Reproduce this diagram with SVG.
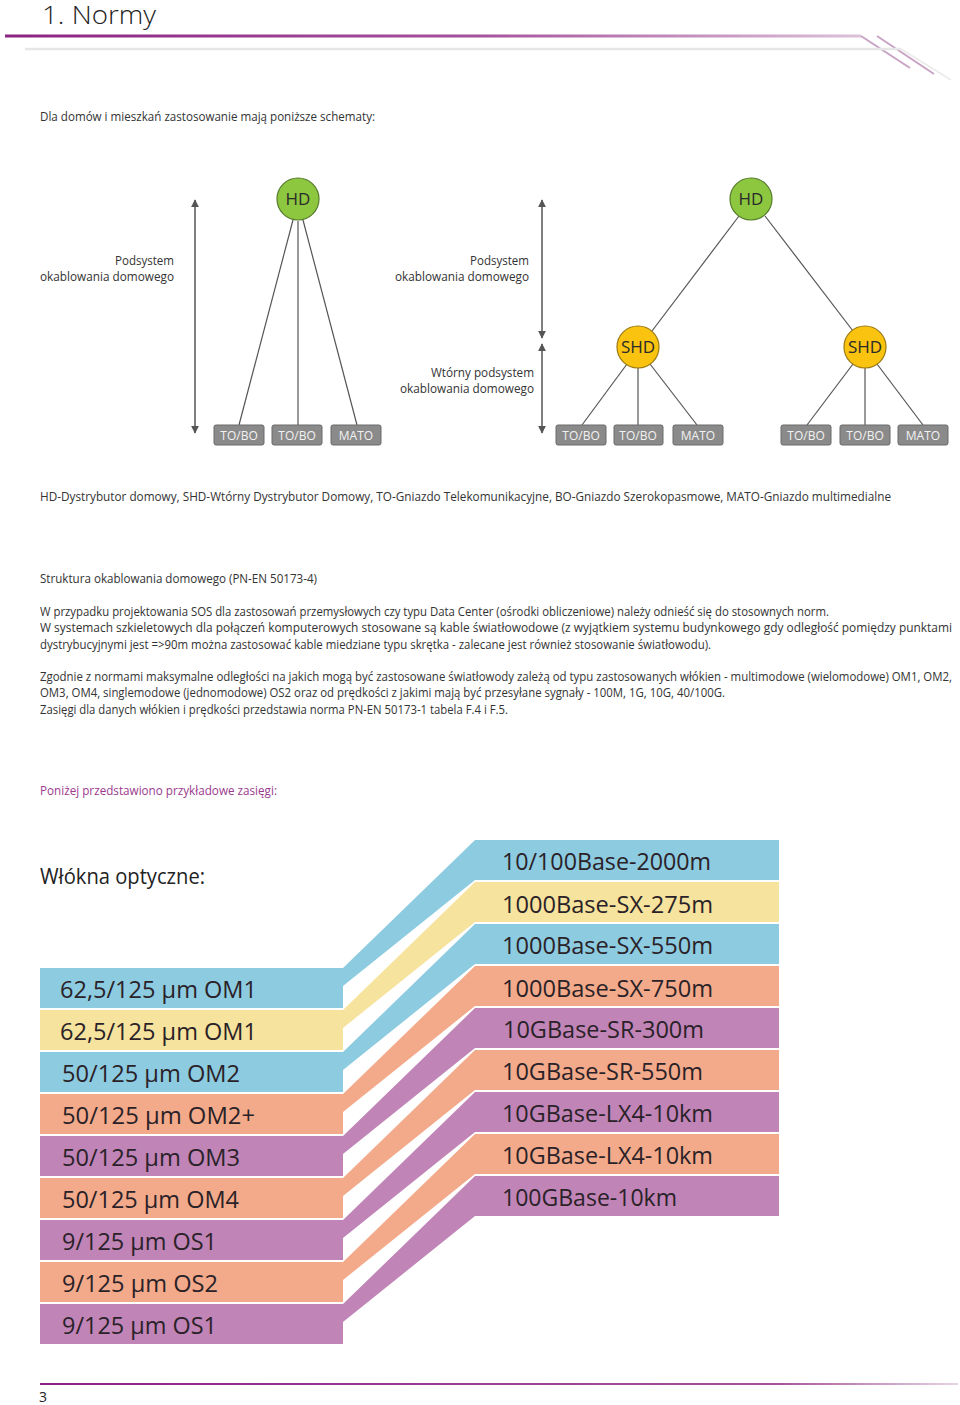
<svg xmlns="http://www.w3.org/2000/svg" width="960" height="1405" viewBox="0 0 960 1405">
<defs>
<linearGradient id="gTop" gradientUnits="userSpaceOnUse" x1="5" y1="0" x2="861" y2="0">
<stop offset="0" stop-color="#8c2383"/><stop offset="0.55" stop-color="#a5519c"/><stop offset="1" stop-color="#dcc1d9"/>
</linearGradient>
<linearGradient id="gBot" gradientUnits="userSpaceOnUse" x1="40" y1="0" x2="958" y2="0">
<stop offset="0" stop-color="#8c2383"/><stop offset="0.8" stop-color="#a5519c"/><stop offset="1" stop-color="#e6d3e3"/>
</linearGradient>
<marker id="ah" viewBox="0 0 10 10" refX="9" refY="5" markerWidth="8" markerHeight="8" markerUnits="userSpaceOnUse" orient="auto-start-reverse">
<path d="M0,0 L10,5 L0,10 Z" fill="#555"/>
</marker>
<style>
.t{font-family:"Open Sans","Noto Sans","Liberation Sans",sans-serif;fill:#333;}
.p{font-size:12px;}
.lbl{font-size:12.5px;text-anchor:end;}
.edge{stroke:#555;stroke-width:1.2;fill:none;}
.dim{stroke:#555;stroke-width:1.5;fill:none;marker-start:url(#ah);marker-end:url(#ah);}
.hd{fill:#8dc63f;stroke:#557a2a;stroke-width:1.2;}
.shd{fill:#f9c30f;stroke:#9a7a12;stroke-width:1.2;}
.nt{font-family:"Open Sans","Noto Sans","Liberation Sans",sans-serif;font-size:17px;fill:#2a2a2a;text-anchor:middle;}
.box{fill:#8a8a8a;stroke:#6a6a6a;stroke-width:1;}
.bt{font-family:"Open Sans","Noto Sans","Liberation Sans",sans-serif;font-size:12px;fill:#f2f2f2;text-anchor:middle;}
.bl{fill:#8dcbe0;}.ye{fill:#f6e39d;}.sa{fill:#f3aa8a;}.pu{fill:#c084b7;}
.bd{font-family:"Open Sans","Noto Sans","Liberation Sans",sans-serif;font-size:23px;fill:#2a2228;}
</style>
</defs>
<rect width="960" height="1405" fill="#ffffff"/>

<g id="header">
<text class="t" x="42" y="24" font-size="26" font-weight="300" style="fill:#222" textLength="114" lengthAdjust="spacingAndGlyphs">1. Normy</text>
<line x1="5" y1="36" x2="861" y2="36" stroke="url(#gTop)" stroke-width="3"/>
<line x1="861" y1="36" x2="910" y2="68" stroke="#c9a3c5" stroke-width="2"/>
<line x1="877" y1="36" x2="934" y2="74" stroke="#c9a3c5" stroke-width="2"/>
<line x1="25" y1="49" x2="901" y2="49" stroke="#e6e6e6" stroke-width="2.5"/>
<line x1="901" y1="49" x2="951" y2="80" stroke="#ececec" stroke-width="2"/>
</g>

<g id="intro">
<text class="t p" x="40" y="121" textLength="335" lengthAdjust="spacingAndGlyphs">Dla domów i mieszkań zastosowanie mają poniższe schematy:</text>
</g>

<g id="connectors">
<line class="dim" x1="195" y1="200" x2="195" y2="433"/>
<line class="dim" x1="542" y1="200" x2="542" y2="338"/>
<line class="dim" x1="542" y1="344" x2="542" y2="433"/>
<line class="edge" x1="293" y1="220" x2="239" y2="425"/>
<line class="edge" x1="298" y1="221" x2="298" y2="425"/>
<line class="edge" x1="303" y1="220" x2="357" y2="425"/>
<line class="edge" x1="739" y1="216" x2="652" y2="331"/>
<line class="edge" x1="765" y1="216" x2="853" y2="331"/>
<line class="edge" x1="627" y1="364" x2="582" y2="425"/>
<line class="edge" x1="638" y1="367" x2="638" y2="425"/>
<line class="edge" x1="650" y1="364" x2="697" y2="425"/>
<line class="edge" x1="853" y1="364" x2="807" y2="425"/>
<line class="edge" x1="865" y1="367" x2="865" y2="425"/>
<line class="edge" x1="877" y1="364" x2="923" y2="425"/>
</g>

<g id="labels">
<text class="t lbl" x="174" y="265" textLength="59" lengthAdjust="spacingAndGlyphs">Podsystem</text>
<text class="t lbl" x="174" y="281" textLength="134" lengthAdjust="spacingAndGlyphs">okablowania domowego</text>
<text class="t lbl" x="529" y="265" textLength="59" lengthAdjust="spacingAndGlyphs">Podsystem</text>
<text class="t lbl" x="529" y="281" textLength="134" lengthAdjust="spacingAndGlyphs">okablowania domowego</text>
<text class="t lbl" x="534" y="377" textLength="103" lengthAdjust="spacingAndGlyphs">Wtórny podsystem</text>
<text class="t lbl" x="534" y="393" textLength="134" lengthAdjust="spacingAndGlyphs">okablowania domowego</text>
</g>

<g id="hd1"><circle class="hd" cx="298" cy="199" r="21"/><text class="nt" x="298" y="205">HD</text></g>
<g id="hd2"><circle class="hd" cx="751" cy="199" r="21"/><text class="nt" x="751" y="205">HD</text></g>
<g id="shd1"><circle class="shd" cx="638" cy="347" r="21"/><text class="nt" x="638" y="353">SHD</text></g>
<g id="shd2"><circle class="shd" cx="865" cy="347" r="21"/><text class="nt" x="865" y="353">SHD</text></g>

<g id="box1"><rect class="box" x="214" y="425" width="50" height="20" rx="2"/><text class="bt" x="239" y="440">TO/BO</text></g>
<g id="box2"><rect class="box" x="272" y="425" width="50" height="20" rx="2"/><text class="bt" x="297" y="440">TO/BO</text></g>
<g id="box3"><rect class="box" x="331" y="425" width="50" height="20" rx="2"/><text class="bt" x="356" y="440">MATO</text></g>
<g id="box4"><rect class="box" x="556" y="425" width="50" height="20" rx="2"/><text class="bt" x="581" y="440">TO/BO</text></g>
<g id="box5"><rect class="box" x="614" y="425" width="49" height="20" rx="2"/><text class="bt" x="638" y="440">TO/BO</text></g>
<g id="box6"><rect class="box" x="673" y="425" width="50" height="20" rx="2"/><text class="bt" x="698" y="440">MATO</text></g>
<g id="box7"><rect class="box" x="781" y="425" width="50" height="20" rx="2"/><text class="bt" x="806" y="440">TO/BO</text></g>
<g id="box8"><rect class="box" x="840" y="425" width="50" height="20" rx="2"/><text class="bt" x="865" y="440">TO/BO</text></g>
<g id="box9"><rect class="box" x="898" y="425" width="50" height="20" rx="2"/><text class="bt" x="923" y="440">MATO</text></g>

<g id="text-body">
<text class="t p" x="40" y="501" textLength="851" lengthAdjust="spacingAndGlyphs">HD-Dystrybutor domowy, SHD-Wtórny Dystrybutor Domowy, TO-Gniazdo Telekomunikacyjne, BO-Gniazdo Szerokopasmowe, MATO-Gniazdo multimedialne</text>
<text class="t p" x="40" y="583" textLength="277" lengthAdjust="spacingAndGlyphs">Struktura okablowania domowego (PN-EN 50173-4)</text>
<text class="t p" x="40" y="616" textLength="789" lengthAdjust="spacingAndGlyphs">W przypadku projektowania SOS dla zastosowań przemysłowych czy typu Data Center (ośrodki obliczeniowe) należy odnieść się do stosownych norm.</text>
<text class="t p" x="40" y="632" textLength="912" lengthAdjust="spacingAndGlyphs">W systemach szkieletowych dla połączeń komputerowych stosowane są kable światłowodowe (z wyjątkiem systemu budynkowego gdy odległość pomiędzy punktami</text>
<text class="t p" x="40" y="649" textLength="671" lengthAdjust="spacingAndGlyphs">dystrybucyjnymi jest =&gt;90m można zastosować kable miedziane typu skrętka - zalecane jest również stosowanie światłowodu).</text>
<text class="t p" x="40" y="681" textLength="912" lengthAdjust="spacingAndGlyphs">Zgodnie z normami maksymalne odległości na jakich mogą być zastosowane światłowody zależą od typu zastosowanych włókien - multimodowe (wielomodowe) OM1, OM2,</text>
<text class="t p" x="40" y="697" textLength="685" lengthAdjust="spacingAndGlyphs">OM3, OM4, singlemodowe (jednomodowe) OS2 oraz od prędkości z jakimi mają być przesyłane sygnały - 100M, 1G, 10G, 40/100G.</text>
<text class="t p" x="40" y="714" textLength="468" lengthAdjust="spacingAndGlyphs">Zasięgi dla danych włókien i prędkości przedstawia norma PN-EN 50173-1 tabela F.4 i F.5.</text>
<text class="t p" x="40" y="795" style="fill:#9a3a8d" textLength="237" lengthAdjust="spacingAndGlyphs">Poniżej przedstawiono przykładowe zasięgi:</text>
</g>

<g id="fibres">
<text class="t" x="40" y="884" font-size="21" style="fill:#222" textLength="165" lengthAdjust="spacingAndGlyphs">Włókna optyczne:</text>
<path class="bl" d="M40,968 H343 L475,840 H779 V880 H475 L343,986 V1008 H40 Z"/>
<path class="ye" d="M40,1010 H343 L475,882 H779 V922 H475 L343,1028 V1050 H40 Z"/>
<path class="bl" d="M40,1052 H343 L475,924 H779 V964 H475 L343,1070 V1092 H40 Z"/>
<path class="sa" d="M40,1094 H343 L475,966 H779 V1006 H475 L343,1112 V1134 H40 Z"/>
<path class="pu" d="M40,1136 H343 L475,1008 H779 V1048 H475 L343,1154 V1176 H40 Z"/>
<path class="sa" d="M40,1178 H343 L475,1050 H779 V1090 H475 L343,1196 V1218 H40 Z"/>
<path class="pu" d="M40,1220 H343 L475,1092 H779 V1132 H475 L343,1238 V1260 H40 Z"/>
<path class="sa" d="M40,1262 H343 L475,1134 H779 V1174 H475 L343,1280 V1302 H40 Z"/>
<path class="pu" d="M40,1304 H343 L475,1176 H779 V1216 H475 L343,1322 V1344 H40 Z"/>

<text class="bd" x="60" y="998" textLength="197" lengthAdjust="spacingAndGlyphs">62,5/125 µm OM1</text>
<text class="bd" x="60" y="1040" textLength="197" lengthAdjust="spacingAndGlyphs">62,5/125 µm OM1</text>
<text class="bd" x="62" y="1082" textLength="178" lengthAdjust="spacingAndGlyphs">50/125 µm OM2</text>
<text class="bd" x="62" y="1124" textLength="193" lengthAdjust="spacingAndGlyphs">50/125 µm OM2+</text>
<text class="bd" x="62" y="1166" textLength="178" lengthAdjust="spacingAndGlyphs">50/125 µm OM3</text>
<text class="bd" x="62" y="1208" textLength="177" lengthAdjust="spacingAndGlyphs">50/125 µm OM4</text>
<text class="bd" x="62" y="1250" textLength="155" lengthAdjust="spacingAndGlyphs">9/125 µm OS1</text>
<text class="bd" x="62" y="1292" textLength="156" lengthAdjust="spacingAndGlyphs">9/125 µm OS2</text>
<text class="bd" x="62" y="1334" textLength="155" lengthAdjust="spacingAndGlyphs">9/125 µm OS1</text>

<text class="bd" x="502" y="870" textLength="209" lengthAdjust="spacingAndGlyphs">10/100Base-2000m</text>
<text class="bd" x="502" y="913" textLength="211" lengthAdjust="spacingAndGlyphs">1000Base-SX-275m</text>
<text class="bd" x="502" y="954" textLength="211" lengthAdjust="spacingAndGlyphs">1000Base-SX-550m</text>
<text class="bd" x="502" y="997" textLength="211" lengthAdjust="spacingAndGlyphs">1000Base-SX-750m</text>
<text class="bd" x="503" y="1038" textLength="201" lengthAdjust="spacingAndGlyphs">10GBase-SR-300m</text>
<text class="bd" x="502" y="1080" textLength="201" lengthAdjust="spacingAndGlyphs">10GBase-SR-550m</text>
<text class="bd" x="502" y="1122" textLength="211" lengthAdjust="spacingAndGlyphs">10GBase-LX4-10km</text>
<text class="bd" x="502" y="1164" textLength="211" lengthAdjust="spacingAndGlyphs">10GBase-LX4-10km</text>
<text class="bd" x="502" y="1206" textLength="175" lengthAdjust="spacingAndGlyphs">100GBase-10km</text>
</g>

<g id="footer">
<line x1="40" y1="1384" x2="958" y2="1384" stroke="url(#gBot)" stroke-width="2"/>
<text class="t" x="39" y="1402" font-size="14" style="fill:#222">3</text>
</g>
</svg>
